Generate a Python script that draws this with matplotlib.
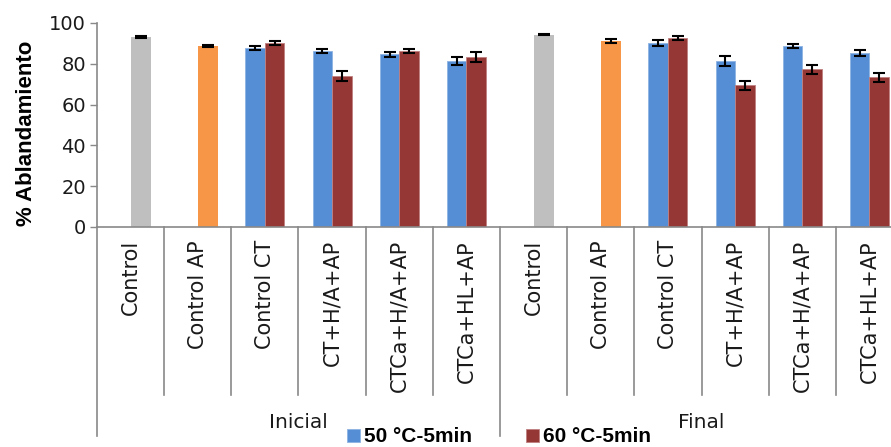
import matplotlib
matplotlib.use("Agg")
import matplotlib.pyplot as plt
import matplotlib.transforms as mtransforms
import numpy as np

categories = ["Control", "Control AP", "Control CT", "CT+H/A+AP", "CTCa+H/A+AP", "CTCa+HL+AP"]
groups = ["Inicial", "Final"]

# single-bar controls (per group): Control (gray), Control AP (orange)
control_vals = [93.0, 94.3]
control_err = [0.5, 0.4]
controlap_vals = [88.7, 91.2]
controlap_err = [0.7, 0.9]

# paired series for categories Control CT .. CTCa+HL+AP, Inicial then Final
s50_vals = [87.9, 86.3, 84.6, 81.4, 90.2, 81.4, 88.7, 85.3]
s50_err = [1.0, 0.8, 1.4, 1.8, 1.3, 2.5, 1.1, 1.6]
s60_vals = [90.0, 73.9, 86.3, 83.3, 92.5, 69.4, 77.3, 73.4]
s60_err = [1.0, 2.4, 1.1, 2.5, 0.9, 2.1, 2.3, 2.3]

series_labels = ["50 °C-5min", "60 °C-5min"]
ylabel = "% Ablandamiento"

c_gray = "#BFBFBF"
c_orange = "#F79646"
c_blue = "#558ED5"
c_red = "#953735"
axis_gray = "#898989"

W, H = 891, 447
fig = plt.figure(figsize=(W / 100, H / 100), dpi=100)
ax = fig.add_axes([97 / W, 1 - 227 / H, 806 / W, 204 / H])

tick_font = "DejaVu Sans"
ncat = len(categories)
bw = 0.29
ekw = dict(ecolor="black", elinewidth=1.5, capsize=4.5, capthick=1.5)

bars50 = bars60 = None
pi = 0
for g in range(len(groups)):
    base = g * ncat
    ax.bar(base + 0 + 0.15, control_vals[g], width=0.30, color=c_gray,
           yerr=control_err[g], error_kw=ekw, zorder=2)
    ax.bar(base + 1 + 0.15, controlap_vals[g], width=0.30, color=c_orange,
           yerr=controlap_err[g], error_kw=ekw, zorder=2)
    for k in range(2, ncat):
        x = base + k
        bars50 = ax.bar(x - 0.145, s50_vals[pi], width=bw, color=c_blue,
                        edgecolor="#8DB3E2", linewidth=0.6,
                        yerr=s50_err[pi], error_kw=ekw, zorder=2)
        bars60 = ax.bar(x + 0.145, s60_vals[pi], width=bw, color=c_red,
                        edgecolor="#C08080", linewidth=0.6,
                        yerr=s60_err[pi], error_kw=ekw, zorder=2)
        pi += 1

ntot = ncat * len(groups)
ax.set_xlim(-0.5, ntot - 0.5)
ax.set_ylim(0, 100)
ax.set_yticks(np.arange(0, 101, 20))
ax.tick_params(axis="y", direction="out", length=5, color=axis_gray, width=1,
               labelsize=14, pad=3)
for lab in ax.get_yticklabels():
    lab.set_fontfamily(tick_font)
    lab.set_color("#1a1a1a")
ax.set_xticks([])
for s in ["top", "right"]:
    ax.spines[s].set_visible(False)
for s in ["left", "bottom"]:
    ax.spines[s].set_color(axis_gray)
    ax.spines[s].set_linewidth(1.2)

ax.set_ylabel(ylabel, fontsize=16, fontweight="bold", fontfamily="Liberation Sans")
ax.yaxis.set_label_coords(-0.074, 0.46)

trans = mtransforms.blended_transform_factory(ax.transData, ax.transAxes)
# category dividers
for i in range(ntot + 1):
    xb = i - 0.5
    if i % ncat == 0:
        y0 = -1.0245
    else:
        y0 = -0.8235
    ax.plot([xb, xb], [0, y0], transform=trans, color=axis_gray, lw=1.2,
            clip_on=False, zorder=1)

# category labels
for g in range(len(groups)):
    for k, cat in enumerate(categories):
        ax.text(g * ncat + k, -0.064, cat, transform=trans, rotation=90,
                ha="center", va="top", fontsize=15, fontfamily=tick_font,
                color="#1a1a1a")
    ax.text(g * ncat + (ncat - 1) / 2, -0.956, groups[g], transform=trans,
            ha="center", va="center", fontsize=14.5, fontfamily=tick_font,
            color="#1a1a1a")

leg = fig.legend([bars50, bars60], series_labels, loc="center",
                 bbox_to_anchor=(499 / W, 1 - 437 / H), ncol=2, frameon=False,
                 handlelength=0.6, handleheight=0.6, handletextpad=0.2,
                 columnspacing=2.6, borderpad=0,
                 prop={"family": "Liberation Sans", "weight": "bold", "size": 15})

fig.savefig("out.png", dpi=100)
